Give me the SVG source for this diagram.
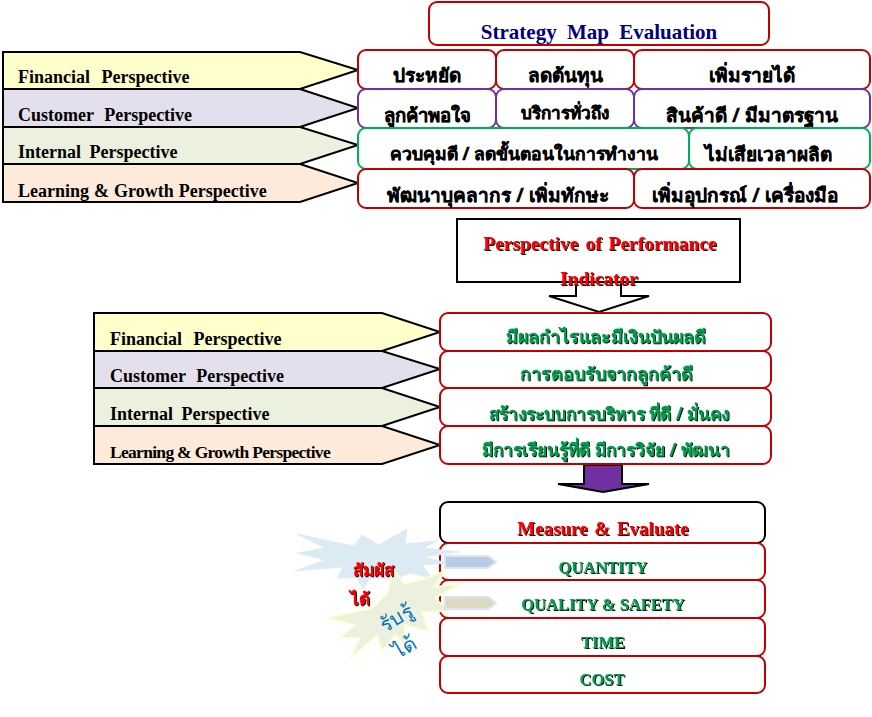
<svg xmlns="http://www.w3.org/2000/svg" width="872" height="717" viewBox="0 0 872 717">
<defs>
<filter id="sh" x="-5%" y="-30%" width="110%" height="160%"><feOffset in="SourceAlpha" dx="1" dy="1" result="o"/><feMerge><feMergeNode in="o"/><feMergeNode in="SourceGraphic"/></feMerge></filter>
</defs>
<style>
text{font-family:"Liberation Serif","Noto Sans",serif;font-weight:bold;text-anchor:middle}
.tag{font-size:18px;text-anchor:start;fill:#000}
.wf{word-spacing:7px}.wc{word-spacing:6px}.wi{word-spacing:4px}.wl{word-spacing:.5px}
.th{font-size:19px;fill:#000;stroke:#000;stroke-width:.3;font-family:"Noto Sans","Liberation Sans",sans-serif}
.ths{fill:#000;stroke:#000;stroke-width:.4;font-family:"Noto Sans","Liberation Sans",sans-serif}
.gr{font-size:17.800px;fill:#00a04f;font-family:"Noto Sans","Liberation Sans",sans-serif;filter:url(#sh)}
.ge{font-size:16.500px;fill:#00a04f;filter:url(#sh)}
.rd{font-size:19.500px;fill:#f00;filter:url(#sh);word-spacing:2px}
.tht{font-size:17px;fill:#f00;filter:url(#sh);font-family:"Noto Sans",sans-serif}
.bl{fill:#0070c0;font-weight:normal;font-family:"Noto Sans",sans-serif}
.p{stroke:#000;stroke-width:2}
.r,.pu,.g,.k{fill:#fff;stroke-width:2}
.r{stroke:#c00000}.pu{stroke:#7030a0}.g{stroke:#00b050}.k{stroke:#000}
.y{fill:#ffffcc}.l{fill:#e4dfec}.e{fill:#ebf1de}.o{fill:#fdeada}
</style>
<g id="financial-1"><polygon class="p y" points="3,52 300,52 358,70 300,89 3,89"/><text class="tag wf" x="18" y="83">Financial Perspective</text></g>
<g id="customer-1"><polygon class="p l" points="3,89 300,89 358,108 300,127 3,127"/><text class="tag wc" x="18" y="121">Customer Perspective</text></g>
<g id="internal-1"><polygon class="p e" points="3,127 300,127 358,145 300,164 3,164"/><text class="tag wi" x="18" y="158">Internal Perspective</text></g>
<g id="learning-1"><polygon class="p o" points="3,164 300,164 358,183 300,202 3,202"/><text class="tag wl" x="18" y="197">Learning &amp; Growth Perspective</text></g>
<g id="title-1"><rect class="r" x="429" y="2" width="340" height="43" rx="8"/><text x="599" y="39" style="font-size:21px;fill:#000080;word-spacing:5px">Strategy Map Evaluation</text></g>
<g id="f1"><rect class="r" x="358" y="50" width="138" height="39" rx="8"/><text class="th" x="427" y="82">ประหยัด</text></g>
<g id="f2"><rect class="r" x="496" y="50" width="138" height="39" rx="8"/><text class="th" x="565" y="82">ลดต้นทุน</text></g>
<g id="f3"><rect class="r" x="634" y="50" width="236" height="39" rx="8"/><text class="th" x="752" y="82">เพิ่มรายได้</text></g>
<g id="c1"><rect class="pu" x="358" y="89" width="138" height="39" rx="8"/><text class="th" x="427" y="122" style="font-size:18.500px">ลูกค้าพอใจ</text></g>
<g id="c2"><rect class="pu" x="496" y="89" width="138" height="39" rx="8"/><text class="ths" x="565" y="119" style="font-size:17px">บริการทั่วถึง</text></g>
<g id="c3"><rect class="pu" x="634" y="89" width="236" height="39" rx="8"/><text class="th" x="752" y="122">สินค้าดี / มีมาตรฐาน</text></g>
<g id="i1"><rect class="g" x="358" y="128" width="331" height="41" rx="8"/><text class="ths" x="524" y="160" style="font-size:17.500px">ควบคุมดี / ลดขั้นตอนในการทำงาน</text></g>
<g id="i2"><rect class="g" x="689" y="128" width="181" height="41" rx="8"/><text class="th" x="768" y="161">ไม่เสียเวลาผลิต</text></g>
<g id="l1"><rect class="r" x="358" y="169" width="276" height="39" rx="8"/><text class="th" x="498" y="202">พัฒนาบุคลากร / เพิ่มทักษะ</text></g>
<g id="l2"><rect class="r" x="634" y="169" width="236" height="39" rx="8"/><text class="th" x="745" y="202">เพิ่มอุปกรณ์ / เครื่องมือ</text></g>
<g id="connectors">
<polygon points="576,282 576,296 549,296 599,312 649,296 621,296 621,282" fill="#fff" stroke="#000" stroke-width="2"/>
<polygon points="584,465 622,465 622,484 649,484 603,492 558,484 584,484" fill="#7030a0" stroke="#000" stroke-width="2"/>
</g>
<g id="title-2"><rect x="457" y="219" width="283" height="63" fill="#fff" stroke="#000" stroke-width="2"/><text class="rd" x="600" y="250">Perspective of Performance</text><text class="rd" x="599" y="285">Indicator</text></g>
<g id="financial-2"><polygon class="p y" points="94,313 382,313 440,332 382,351 94,351"/><text class="tag wf" x="110" y="345">Financial Perspective</text></g>
<g id="customer-2"><polygon class="p l" points="94,351 382,351 440,369 382,388 94,388"/><text class="tag wc" x="110" y="382">Customer Perspective</text></g>
<g id="internal-2"><polygon class="p e" points="94,388 382,388 440,407 382,426 94,426"/><text class="tag wi" x="110" y="420">Internal Perspective</text></g>
<g id="learning-2"><polygon class="p o" points="94,426 382,426 440,445 382,464 94,464"/><text class="tag" x="110" y="458" style="font-size:17.500px;letter-spacing:-.7px">Learning &amp; Growth Perspective</text></g>
<g id="pi1"><rect class="r" x="440" y="313" width="331" height="38" rx="8"/><text class="gr" x="606" y="343">มีผลกำไรและมีเงินปันผลดี</text></g>
<g id="pi2"><rect class="r" x="440" y="351" width="331" height="37" rx="8"/><text class="gr" x="606" y="380">การตอบรับจากลูกค้าดี</text></g>
<g id="pi3"><rect class="r" x="440" y="388" width="331" height="38" rx="8"/><text class="gr" x="609" y="420" style="font-size:17.200px">สร้างระบบการบริหาร ที่ดี / มั่นคง</text></g>
<g id="pi4"><rect class="r" x="440" y="426" width="331" height="38" rx="8"/><text class="gr" x="606" y="456" style="font-size:17.300px">มีการเรียนรู้ที่ดี มีการวิจัย / พัฒนา</text></g>
<g id="measure"><rect class="k" x="440" y="502" width="325" height="41" rx="8"/><text class="rd" x="603" y="535" style="font-size:19px">Measure &amp; Evaluate</text></g>
<g id="quantity"><rect class="r" x="440" y="543" width="325" height="37" rx="8"/><text class="ge" x="603" y="573">QUANTITY</text></g>
<g id="quality"><rect class="r" x="440" y="580" width="325" height="38" rx="8"/><text class="ge" x="603" y="610">QUALITY &amp; SAFETY</text></g>
<g id="time"><rect class="r" x="440" y="618" width="325" height="38" rx="8"/><text class="ge" x="603" y="648">TIME</text></g>
<g id="cost"><rect class="r" x="440" y="656" width="325" height="37" rx="8"/><text class="ge" x="602" y="685">COST</text></g>
<g id="burst-blue"><polygon points="297,534 354,546 362,535 379,545 407,529 405,544 437,541 424,548 459,552 424,557 447,563 422,565 432,578 410,573 393,580 380,578 370,578 363,589 357,578 337,578 343,567 295,571 325,560 297,553 325,548" fill="#dbeaf3" stroke="#e3edf5"/></g>
<g id="burst-yellow"><polygon points="327,618 373,608 388,593 393,567 404,584 422,580 447,570 433,587 460,584 435,598 450,611 422,612 428,631 405,625 405,645 395,635 382,650 377,635 351,658 360,638 340,638 355,625" fill="#ebf1de" stroke="#ffffcc" stroke-width="1.500"/></g>
<g id="small-arrows">
<polygon points="445,556 488,556 496,562 488,568 445,568" fill="#b8cce4" stroke="#dbe5f1" stroke-width="2"/>
<polygon points="445,597 488,597 496,603 488,609 445,609" fill="#ddd9c3" stroke="#dbe5f1" stroke-width="2"/>
</g>
<g id="labels">
<text class="tht" x="373" y="576">สัมผัส</text>
<text class="tht" x="360" y="605">ได้</text>
<text class="bl" transform="translate(400,624) rotate(-30)" style="font-size:20px">รับรู้</text>
<text class="bl" transform="translate(408,653) rotate(-30)" style="font-size:20px">ได้</text>
</g>
</svg>
